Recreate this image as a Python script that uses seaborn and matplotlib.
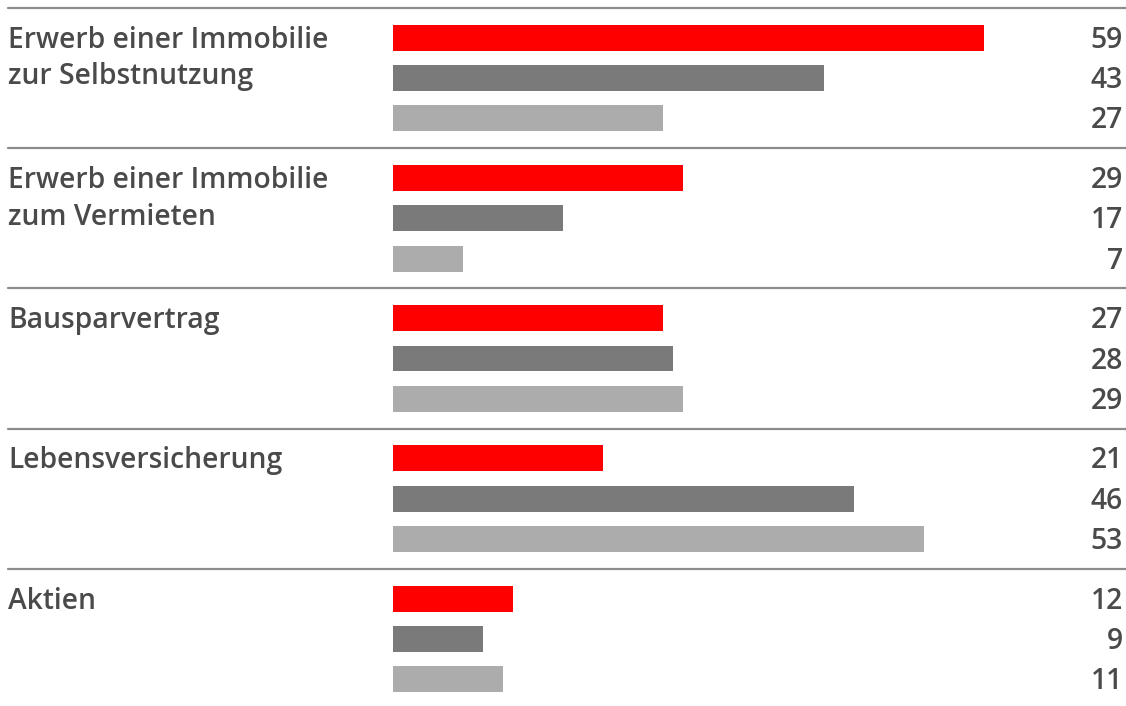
import matplotlib
matplotlib.use("Agg")
import matplotlib.pyplot as plt
import seaborn as sns
import pandas as pd

categories = [
    "Erwerb einer Immobilie\nzur Selbstnutzung",
    "Erwerb einer Immobilie\nzum Vermieten",
    "Bausparvertrag",
    "Lebensversicherung",
    "Aktien",
]
series = ["A", "B", "C"]
values_a = [59, 29, 27, 21, 12]
values_b = [43, 17, 28, 46, 9]
values_c = [27, 7, 29, 53, 11]
colors = ["#ff0000", "#7a7a7a", "#acacac"]

rows = []
for s, vals in zip(series, [values_a, values_b, values_c]):
    for c, v in zip(categories, vals):
        rows.append({"category": c, "series": s, "value": v})
df = pd.DataFrame(rows)

sns.set_theme(style="white")
plt.rcParams["font.family"] = ["Open Sans", "DejaVu Sans"]
text_color = "#4a4a4a"

fig = plt.figure(figsize=(11.26, 7.06), dpi=100)
ax = fig.add_axes([0, 0, 1, 1])
sns.barplot(data=df, y="category", x="value", hue="series", order=categories,
            hue_order=series, palette=colors, orient="h", width=0.866, gap=0.358,
            legend=False, ax=ax, saturation=1, linewidth=0)

W, H = 1126, 706
x0_px, scale = 393, 591 / 59
ax.set_xlim(-x0_px / scale, (W - x0_px) / scale)
gsp = 140.25
ax.set_ylim((H - 78) / gsp, -78 / gsp)
ax.axis("off")

for i in range(len(categories)):
    ax.axhline(i - 0.5, xmin=8 / W, xmax=1, color="#8c8c8c", lw=1.6, clip_on=False)

fs = 20.3
slot = 0.866 / 3
for i, cat in enumerate(categories):
    ax.annotate(cat, xy=(8, i - slot), xycoords=("figure pixels", "data"),
                xytext=(0, 12), textcoords="offset pixels", ha="left", va="top",
                fontsize=fs, fontweight="semibold", color=text_color, linespacing=1.36)

for cont, vals in zip(ax.containers, [values_a, values_b, values_c]):
    for patch, v in zip(cont.patches, vals):
        yc = patch.get_y() + patch.get_height() / 2
        ax.annotate(f"{v}", xy=(1123, yc), xycoords=("figure pixels", "data"),
                    xytext=(0, -10), textcoords="offset pixels", ha="right", va="baseline",
                    fontsize=fs, fontweight="semibold", color=text_color)

fig.savefig("out.png", dpi=100, facecolor="white")
